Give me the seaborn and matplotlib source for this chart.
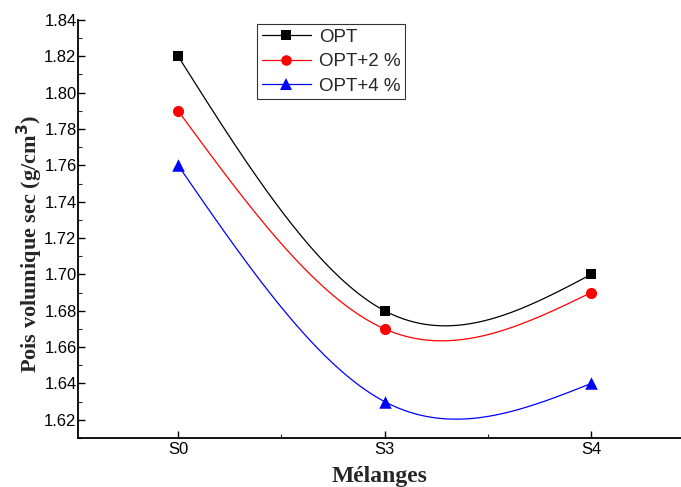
import numpy as np
import pandas as pd
import matplotlib
matplotlib.use("Agg")
import matplotlib.pyplot as plt
from matplotlib.lines import Line2D
from matplotlib.ticker import MultipleLocator, FixedLocator
import seaborn as sns

# ---- data ----
categories = ["S0", "S3", "S4"]
opt = [1.82, 1.68, 1.70]
opt2 = [1.79, 1.67, 1.69]
opt4 = [1.76, 1.63, 1.64]
series_names = ["OPT", "OPT+2 %", "OPT+4 %"]
y_ticks = [1.62, 1.64, 1.66, 1.68, 1.70, 1.72, 1.74, 1.76, 1.78, 1.80, 1.82, 1.84]

sns.set_theme(style="ticks")
plt.rcParams["font.family"] = ["Liberation Sans", "DejaVu Sans"]


def natural_spline(x, y, xs):
    x = np.asarray(x, float)
    y = np.asarray(y, float)
    n = len(x)
    h = np.diff(x)
    A = np.zeros((n, n))
    r = np.zeros(n)
    A[0, 0] = 1
    A[-1, -1] = 1
    for i in range(1, n - 1):
        A[i, i - 1] = h[i - 1]
        A[i, i] = 2 * (h[i - 1] + h[i])
        A[i, i + 1] = h[i]
        r[i] = 6 * ((y[i + 1] - y[i]) / h[i] - (y[i] - y[i - 1]) / h[i - 1])
    M = np.linalg.solve(A, r)
    out = np.empty_like(xs)
    for k, xv in enumerate(xs):
        i = min(max(np.searchsorted(x, xv) - 1, 0), n - 2)
        hi = h[i]
        a = x[i + 1] - xv
        b = xv - x[i]
        out[k] = (M[i] * a ** 3 / (6 * hi) + M[i + 1] * b ** 3 / (6 * hi)
                  + (y[i] / hi - M[i] * hi / 6) * a
                  + (y[i + 1] / hi - M[i + 1] * hi / 6) * b)
    return out


colors = ["black", "red", "blue"]
markers = ["s", "o", "^"]
msizes = [7, 8, 9]

fig = plt.figure(figsize=(6.81, 4.87), dpi=100)
ax = fig.add_axes([0.1145, 0.1006, 0.8855, 0.8584])

xpos = np.arange(len(categories))
xs = np.linspace(0, len(categories) - 1, 300)
handles = []
for vals, name, c, m, ms in zip([opt, opt2, opt4], series_names, colors, markers, msizes):
    curve = pd.DataFrame({"x": xs, "y": natural_spline(xpos, vals, xs)})
    sns.lineplot(data=curve, x="x", y="y", color=c, linewidth=0.9, ax=ax, legend=False)
    pts = pd.DataFrame({"x": xpos, "y": vals})
    sns.scatterplot(data=pts, x="x", y="y", color=c, marker=m, s=ms ** 2,
                    edgecolor=c, linewidth=0, ax=ax, legend=False, zorder=3)
    handles.append(Line2D([0], [0], color=c, lw=0.9, marker=m, markersize=ms * 0.95,
                          markeredgewidth=0, label=name))

ax.set_xlim(-0.485, 2.435)
ax.set_ylim(1.61, 1.84)
ax.set_xticks(xpos)
ax.set_xticklabels(categories)
ax.xaxis.set_minor_locator(FixedLocator([0.5, 1.5]))
ax.set_yticks(y_ticks)
ax.set_yticklabels([f"{v:.2f}" for v in y_ticks])
ax.yaxis.set_minor_locator(MultipleLocator(0.01))

for s in ["top", "right"]:
    ax.spines[s].set_visible(False)
for s in ["left", "bottom"]:
    ax.spines[s].set_linewidth(1.3)
    ax.spines[s].set_color("black")

ax.tick_params(axis="both", which="major", direction="in", length=5, width=1,
               labelsize=12, colors="black", pad=1)
ax.tick_params(axis="both", which="minor", direction="in", length=3, width=0.8)
ax.tick_params(axis="x", pad=3)

ax.set_xlabel("Mélanges", fontfamily="Liberation Serif", fontweight="bold",
              fontsize=17)
ax.xaxis.set_label_coords(0.5, -0.066)
ax.set_ylabel("Pois volumique sec (g/cm$^\\mathbf{3}$)", fontfamily="Liberation Serif",
              fontweight="bold", fontsize=16)
ax.yaxis.set_label_coords(-0.054, 0.465)

leg = ax.legend(handles=handles, loc="upper left", bbox_to_anchor=(0.291, 1.0),
                fontsize=13.5, frameon=True, fancybox=False, edgecolor="black",
                handlelength=2.6, handletextpad=0.45, borderpad=0.25,
                labelspacing=0.4, borderaxespad=0.2)
leg.get_frame().set_linewidth(0.8)

fig.savefig("out.png", dpi=100, facecolor="white")
